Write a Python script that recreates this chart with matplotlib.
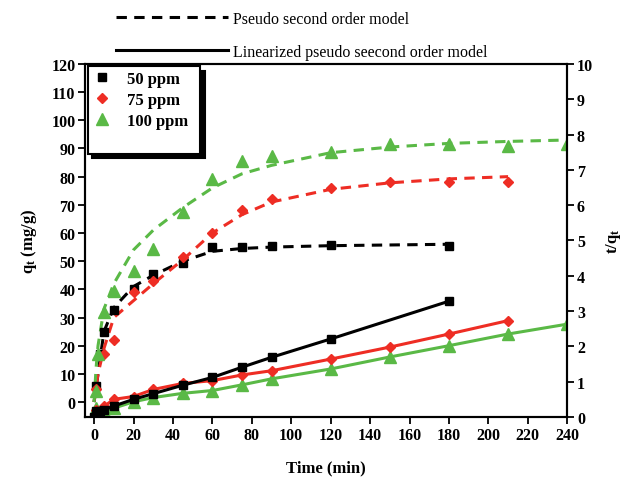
import matplotlib.pyplot as plt
from matplotlib.lines import Line2D

plt.rcParams['font.family'] = ['Liberation Serif', 'DejaVu Serif']
plt.rcParams['font.weight'] = 'bold'
plt.rcParams['axes.labelweight'] = 'bold'
plt.rcParams['mathtext.fontset'] = 'custom'
plt.rcParams['mathtext.rm'] = 'Liberation Serif:bold'
plt.rcParams['mathtext.default'] = 'rm'

# experimental points, qt (mg/g) on the left axis, t/qt on the right axis
black_t = [1, 3, 5, 10, 20, 30, 45, 60, 75, 90, 120, 180]
black_q = [5.7, 17, 25, 32.5, 40, 45.5, 49.5, 55.2, 55, 55.3, 55.6, 55.5]
black_tq = [0.18, 0.18, 0.2, 0.31, 0.5, 0.66, 0.9, 1.12, 1.41, 1.69, 2.21, 3.28]

red_t = [1, 5, 10, 20, 30, 45, 60, 75, 90, 120, 150, 180, 210]
red_q = [4.6, 17, 22, 39, 43, 51.5, 60, 68, 72, 76, 78, 78, 78]
red_tq = [0.2, 0.3, 0.5, 0.58, 0.78, 0.95, 1.03, 1.19, 1.31, 1.64, 1.98, 2.35, 2.73]

green_t = [1, 2, 5, 10, 20, 30, 45, 60, 75, 90, 120, 150, 180, 210, 240]
green_q = [3.9, 17, 32, 39.5, 46.6, 54.3, 67.4, 79, 85.6, 87.4, 88.7, 91.5, 91.5, 91, 91.5]
green_tq = [0.26, 0.12, 0.16, 0.25, 0.43, 0.55, 0.67, 0.75, 0.91, 1.08, 1.36, 1.70, 2.02, 2.35, 2.63]

# pseudo second order model curves
black_fit_t = [0, 1, 2, 5, 10, 20, 30, 45, 60, 75, 90, 120, 180]
black_fit_q = [0, 5, 10, 25, 33.5, 41, 45, 50, 53.5, 54.5, 55, 55.5, 56]
red_fit_t = [0, 1, 2, 5, 10, 20, 30, 45, 60, 75, 90, 120, 150, 180, 210]
red_fit_q = [0, 5, 10, 19, 30, 36, 42, 50.5, 60, 66.5, 71, 75.5, 77.8, 79.2, 80]
green_fit_t = [0, 1, 2, 5, 10, 20, 30, 45, 60, 75, 90, 120, 150, 180, 210, 240]
green_fit_q = [0, 12, 20, 33, 42, 54, 61, 69, 76, 81, 84, 88.5, 90.5, 91.8, 92.5, 93]

# start of the linearized lines
line_start_t = 0
line_start_v = 0.0

red = '#ee2d24'
green = '#5ab946'

fig = plt.figure(figsize=(6.22, 4.81), dpi=100)
ax1 = fig.add_axes([0.137, 0.131, 0.775, 0.734])
ax2 = ax1.twinx()

dash = (0, (3.4, 2.4))
ax1.plot(black_fit_t, black_fit_q, color='k', lw=2.2, ls=dash)
ax1.plot(red_fit_t, red_fit_q, color=red, lw=2.2, ls=dash)
ax1.plot(green_fit_t, green_fit_q, color=green, lw=2.2, ls=dash)
ax1.plot(black_t, black_q, 's', color='k', ms=6)
ax1.plot(red_t, red_q, 'D', color=red, ms=5.5)
ax1.plot(green_t, green_q, '^', color=green, ms=8)

ax2.plot([line_start_t] + green_t, [line_start_v] + green_tq, '-^', color=green, lw=2.2, ms=8)
ax2.plot([line_start_t] + red_t, [line_start_v] + red_tq, '-D', color=red, lw=2.2, ms=5.5)
ax2.plot([line_start_t] + black_t, [line_start_v] + black_tq, '-s', color='k', lw=2.2, ms=6)

ax1.set_xlim(-4.5, 240)
ax1.set_ylim(-5.3, 120)
ax2.set_ylim(0, 10)
ax1.set_xticks(range(0, 241, 20))
ax1.set_yticks(range(0, 121, 10))
ax2.set_yticks(range(0, 11))

for ax in (ax1, ax2):
    for s in ax.spines.values():
        s.set_linewidth(1.5)
    ax.tick_params(direction='out', length=5, width=1.3, labelsize=11.5, pad=2)

ax1.set_xlabel('Time (min)', fontsize=12, labelpad=12)
ax1.set_ylabel('q$_{t}$ (mg/g)', fontsize=12, labelpad=9)
ax2.set_ylabel('t/q$_{t}$', fontsize=12, labelpad=8)

handles = [Line2D([], [], marker='s', ls='none', color='k', ms=6),
           Line2D([], [], marker='D', ls='none', color=red, ms=5.5),
           Line2D([], [], marker='^', ls='none', color=green, ms=8),
           Line2D([], [], ls='none')]
leg = ax2.legend(handles, ['50 ppm  ', '75 ppm  ', '100 ppm  ', ' '], loc='upper left',
                 bbox_to_anchor=(0.0, 1.0), borderaxespad=0.15, fancybox=False,
                 edgecolor='k', fontsize=12, handlelength=1.2, handletextpad=0.9,
                 labelspacing=0.3, borderpad=0.25,
                 shadow={'ox': 3, 'oy': -3, 'color': 'k', 'alpha': 1})
leg.get_frame().set_linewidth(1.5)

top_handles = [Line2D([], [], color='k', lw=2.2, ls=dash),
               Line2D([], [], color='k', lw=2.2)]
fig.legend(top_handles, ['Pseudo second order model', 'Linearized pseudo seecond order model'],
           loc='upper left', bbox_to_anchor=(0.163, 1.005), frameon=False,
           handlelength=7.0, handletextpad=0.35, labelspacing=1.05,
           prop={'family': 'Liberation Serif', 'size': 11.5, 'weight': 'normal'})

fig.savefig('out.png', dpi=100)
